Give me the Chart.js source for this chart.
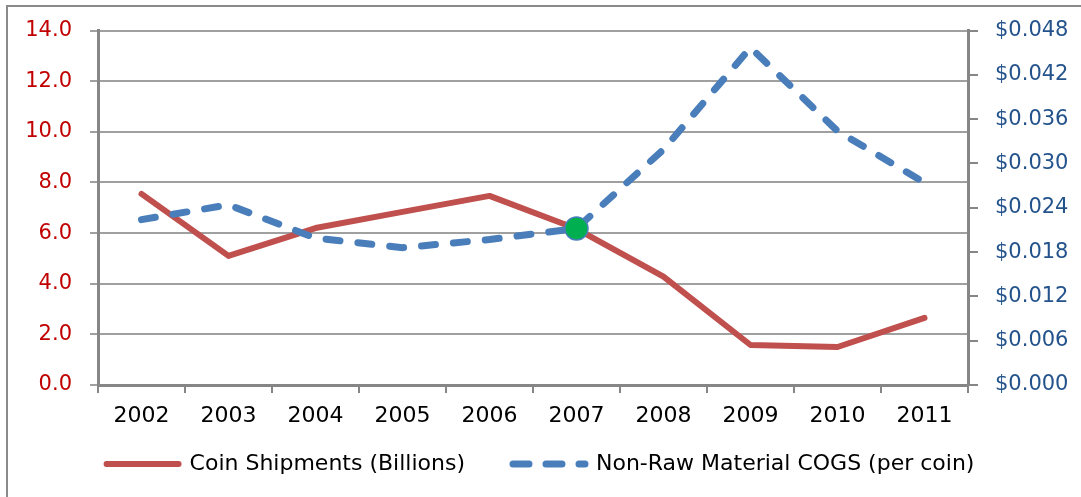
<!DOCTYPE html>
<html lang="en">
<head>
    <meta charset="UTF-8">
    <title>Coin Shipments vs COGS</title>
    <script src="https://cdn.jsdelivr.net/npm/chart.js"></script>
    <style>
        html, body { margin: 0; padding: 0; background: #fff; overflow: hidden; }
        #frame {
            position: absolute; left: 6px; top: 5px;
            width: 1200px; height: 600px;
            border: 2px solid #8a8a8a;
        }
        #wrap { position: absolute; left: 0; top: 0; width: 1081px; height: 497px; }
    </style>
</head>
<body>
    <div id="frame"></div>
    <div id="wrap"><canvas id="myChart"></canvas></div>
    <script>
        // data
        const years = ["2002", "2003", "2004", "2005", "2006", "2007", "2008", "2009", "2010", "2011"];
        const shipments = [7.55, 5.1, 6.2, 6.84, 7.47, 6.17, 4.28, 1.58, 1.5, 2.65];
        const cogs = [0.0224, 0.0244, 0.0199, 0.0186, 0.0197, 0.0212, 0.0319, 0.0457, 0.0344, 0.0274];
        const leftTicks = [0, 2, 4, 6, 8, 10, 12, 14];
        const rightTicks = [0, 0.006, 0.012, 0.018, 0.024, 0.030, 0.036, 0.042, 0.048];
        const highlightIndex = 5; // green marker on 2007

        const font = "'DejaVu Sans', sans-serif";
        const axisGray = "#868686";
        const gridGray = "#a0a0a0";

        let ctx = document.getElementById("myChart").getContext("2d");

        window.myChart = new Chart(ctx, {
            type: "line",
            data: {
                labels: years,
                datasets: [{
                    label: "Coin Shipments (Billions)",
                    data: shipments,
                    yAxisID: "y",
                    borderColor: "#c0504d",
                    backgroundColor: "#c0504d",
                    borderWidth: 6,
                    borderJoinStyle: "round",
                    borderCapStyle: "round",
                    pointRadius: 0,
                    tension: 0,
                    order: 1
                }, {
                    label: "Non-Raw Material COGS (per coin)",
                    data: cogs,
                    yAxisID: "y1",
                    borderColor: "#4a7ebb",
                    backgroundColor: "#4a7ebb",
                    borderWidth: 7,
                    borderDash: [14, 18],
                    borderCapStyle: "round",
                    pointRadius: years.map((y, i) => i === highlightIndex ? 11.5 : 0),
                    pointBackgroundColor: "#00b050",
                    pointBorderColor: "#4a7ebb",
                    pointBorderWidth: 1.5,
                    tension: 0,
                    order: 0
                }]
            },
            options: {
                responsive: true,
                maintainAspectRatio: false,
                animation: false,
                layout: {
                    padding: { top: 18, left: 0, right: 0, bottom: 12 }
                },
                plugins: {
                    tooltip: { enabled: false },
                    legend: {
                        position: "bottom",
                        labels: {
                            color: "#000",
                            font: { family: font, size: 22 },
                            usePointStyle: true,
                            pointStyleWidth: 72,
                            padding: 48,
                            generateLabels: chart => chart.data.datasets.map((ds, i) => ({
                                text: ds.label,
                                fillStyle: ds.borderColor,
                                strokeStyle: ds.borderColor,
                                lineWidth: ds.borderWidth,
                                lineDash: i === 1 ? [16, 17] : [],
                                lineCap: "round",
                                pointStyle: "line",
                                fontColor: "#000",
                                hidden: false,
                                datasetIndex: i
                            }))
                        }
                    }
                },
                scales: {
                    x: {
                        offset: true,
                        afterFit: s => {
                            s.height = 20;
                            // labels hang below the thin axis box, so don't clip them to it
                            s._computeLabelArea = () => undefined;
                        },
                        grid: {
                            offset: true,
                            drawOnChartArea: false,
                            drawTicks: true,
                            tickLength: 8,
                            color: axisGray,
                            lineWidth: 2
                        },
                        border: { color: axisGray, width: 3 },
                        ticks: {
                            color: "#000",
                            padding: 10,
                            maxRotation: 0,
                            autoSkip: false,
                            font: { family: font, size: 22 }
                        }
                    },
                    y: {
                        position: "left",
                        min: 0,
                        max: 14,
                        afterFit: s => { s.width = 98; },
                        afterBuildTicks: s => { s.ticks = leftTicks.map(v => ({ value: v })); },
                        grid: {
                            color: gridGray,
                            lineWidth: 2,
                            tickLength: 8
                        },
                        border: { color: axisGray, width: 3 },
                        ticks: {
                            color: "#c00000",
                            padding: 18,
                            font: { family: font, size: 21 },
                            callback: v => v.toFixed(1)
                        }
                    },
                    y1: {
                        position: "right",
                        min: 0,
                        max: 0.048,
                        afterFit: s => { s.width = 113; },
                        afterBuildTicks: s => { s.ticks = rightTicks.map(v => ({ value: v })); },
                        grid: {
                            drawOnChartArea: false,
                            color: axisGray,
                            lineWidth: 2,
                            tickLength: 10
                        },
                        border: { color: axisGray, width: 3 },
                        ticks: {
                            color: "#24538c",
                            padding: 17,
                            font: { family: font, size: 21 },
                            callback: v => "$" + v.toFixed(3)
                        }
                    }
                }
            }
        });
    </script>
</body>
</html>
